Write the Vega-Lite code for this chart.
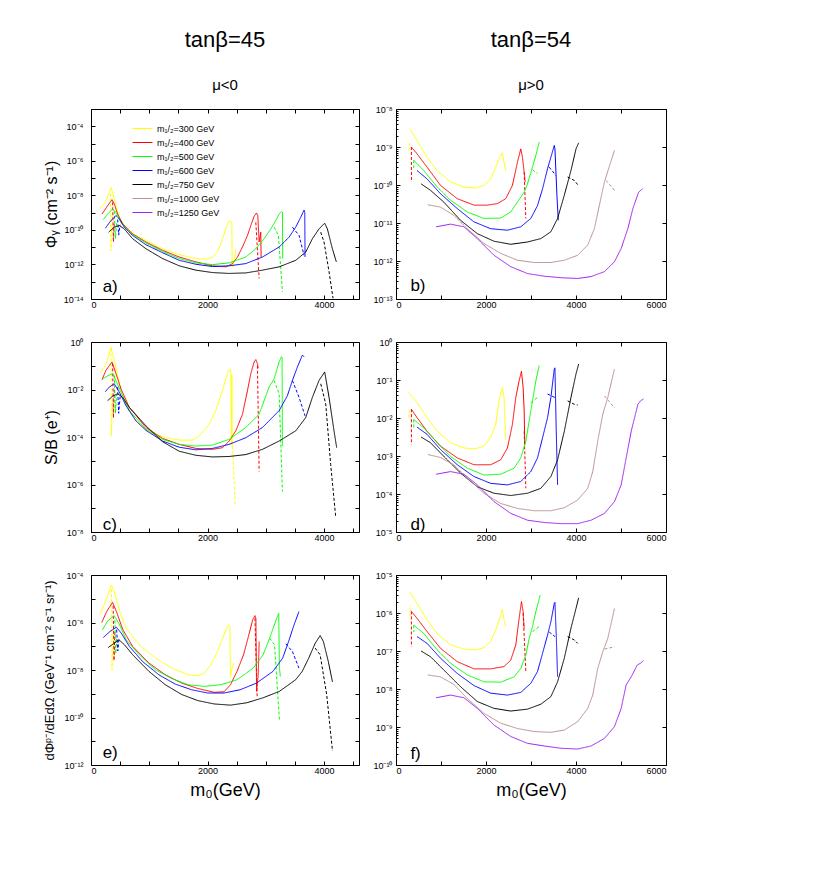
{
  "$schema": "https://vega.github.io/schema/vega-lite/v6.json",
  "padding": {"left": 42, "top": 28, "right": 10, "bottom": 10},
  "background": "white",
  "config": {
    "font": "Liberation Sans",
    "view": {"stroke": "black", "strokeWidth": 1},
    "axis": {"grid": false, "domain": false, "tickSize": -4, "tickColor": "black", "labelColor": "black", "labelFont": "Liberation Sans", "labelFontSize": 9, "titleFont": "Liberation Sans", "titleFontWeight": "normal", "titleColor": "black"},
    "title": {"font": "Liberation Sans", "fontSize": 22, "fontWeight": "normal", "color": "black", "subtitleFont": "Liberation Sans", "subtitleFontSize": 15, "subtitleColor": "black", "subtitlePadding": 26, "offset": 15, "anchor": "middle"},
    "line": {"strokeWidth": 1}
  },
  "columns": 2,
  "align": "each",
  "spacing": {"row": 27, "column": 7},
  "resolve": {"scale": {"color": "independent", "strokeDash": "independent", "x": "independent", "y": "independent"}, "legend": {"color": "independent", "strokeDash": "independent"}},
  "datasets": {
    "a": [
      {"m":"300","t":"s","g":"300s","x":154,"y":-8.75},{"m":"300","t":"s","g":"300s","x":246,"y":-8.41},{"m":"300","t":"s","g":"300s","x":314,"y":-7.83},{"m":"300","t":"s","g":"300s","x":343,"y":-7.54},{"m":"300","t":"s","g":"300s","x":371,"y":-7.83},{"m":"300","t":"s","g":"300s","x":429,"y":-8.6},{"m":"300","t":"s","g":"300s","x":486,"y":-9.27},{"m":"300","t":"s","g":"300s","x":600,"y":-9.84},{"m":"300","t":"s","g":"300s","x":771,"y":-10.32},{"m":"300","t":"s","g":"300s","x":943,"y":-10.61},{"m":"300","t":"s","g":"300s","x":1229,"y":-11.09},{"m":"300","t":"s","g":"300s","x":1514,"y":-11.43},{"m":"300","t":"s","g":"300s","x":1800,"y":-11.66},{"m":"300","t":"s","g":"300s","x":2000,"y":-11.7},{"m":"300","t":"s","g":"300s","x":2086,"y":-11.57},{"m":"300","t":"s","g":"300s","x":2171,"y":-11.28},{"m":"300","t":"s","g":"300s","x":2229,"y":-10.8},{"m":"300","t":"s","g":"300s","x":2286,"y":-10.23},{"m":"300","t":"s","g":"300s","x":2343,"y":-9.65},{"m":"300","t":"s","g":"300s","x":2371,"y":-9.48},{"m":"300","t":"s","g":"300s","x":2400,"y":-9.52},{"m":"300","t":"s","g":"300s","x":2417,"y":-9.56},{"m":"300","t":"s","g":"300s","x":2423,"y":-11.85},{"m":"300","t":"s","g":"300s","x":2434,"y":-12.14},{"m":"300","t":"s","g":"300s","x":2463,"y":-11.66},{"m":"300","t":"s","g":"300s","x":2486,"y":-11.09},
      {"m":"300","t":"d","g":"300d","x":335,"y":-7.9},{"m":"300","t":"d","g":"300d","x":343,"y":-11.2},{"m":"300","t":"d","g":"300d","x":360,"y":-9.2},
      {"m":"400","t":"s","g":"400s","x":189,"y":-9.08},{"m":"400","t":"s","g":"400s","x":286,"y":-8.6},{"m":"400","t":"s","g":"400s","x":360,"y":-8.25},{"m":"400","t":"s","g":"400s","x":400,"y":-8.5},{"m":"400","t":"s","g":"400s","x":457,"y":-9.08},{"m":"400","t":"s","g":"400s","x":543,"y":-9.65},{"m":"400","t":"s","g":"400s","x":714,"y":-10.23},{"m":"400","t":"s","g":"400s","x":943,"y":-10.7},{"m":"400","t":"s","g":"400s","x":1229,"y":-11.18},{"m":"400","t":"s","g":"400s","x":1514,"y":-11.57},{"m":"400","t":"s","g":"400s","x":1800,"y":-11.85},{"m":"400","t":"s","g":"400s","x":2086,"y":-12.08},{"m":"400","t":"s","g":"400s","x":2314,"y":-12.14},{"m":"400","t":"s","g":"400s","x":2429,"y":-11.95},{"m":"400","t":"s","g":"400s","x":2514,"y":-11.57},{"m":"400","t":"s","g":"400s","x":2600,"y":-10.99},{"m":"400","t":"s","g":"400s","x":2686,"y":-10.32},{"m":"400","t":"s","g":"400s","x":2743,"y":-9.75},{"m":"400","t":"s","g":"400s","x":2800,"y":-9.21},{"m":"400","t":"s","g":"400s","x":2840,"y":-9.02},{"m":"400","t":"s","g":"400s","x":2863,"y":-9.17},{"m":"400","t":"s","g":"400s","x":2886,"y":-10.7},{"m":"400","t":"s","g":"400s","x":2914,"y":-10.13},{"m":"400","t":"s","g":"400s","x":2920,"y":-11.57},
      {"m":"400","t":"d","g":"400d","x":371,"y":-8.4},{"m":"400","t":"d","g":"400d","x":385,"y":-10.7},{"m":"400","t":"d","g":"400d","x":400,"y":-9.5},
      {"m":"400","t":"d","g":"400e","x":2829,"y":-9.56},{"m":"400","t":"d","g":"400e","x":2886,"y":-12.81},
      {"m":"500","t":"s","g":"500s","x":211,"y":-9.4},{"m":"500","t":"s","g":"500s","x":286,"y":-9.08},{"m":"500","t":"s","g":"500s","x":371,"y":-8.79},{"m":"500","t":"s","g":"500s","x":429,"y":-8.98},{"m":"500","t":"s","g":"500s","x":514,"y":-9.56},{"m":"500","t":"s","g":"500s","x":657,"y":-10.13},{"m":"500","t":"s","g":"500s","x":943,"y":-10.76},{"m":"500","t":"s","g":"500s","x":1229,"y":-11.24},{"m":"500","t":"s","g":"500s","x":1514,"y":-11.66},{"m":"500","t":"s","g":"500s","x":1800,"y":-11.91},{"m":"500","t":"s","g":"500s","x":2086,"y":-12.01},{"m":"500","t":"s","g":"500s","x":2371,"y":-11.91},{"m":"500","t":"s","g":"500s","x":2657,"y":-11.57},{"m":"500","t":"s","g":"500s","x":2829,"y":-11.09},{"m":"500","t":"s","g":"500s","x":2971,"y":-10.51},{"m":"500","t":"s","g":"500s","x":3086,"y":-9.94},{"m":"500","t":"s","g":"500s","x":3171,"y":-9.46},{"m":"500","t":"s","g":"500s","x":3229,"y":-9.08},{"m":"500","t":"s","g":"500s","x":3269,"y":-8.94},{"m":"500","t":"s","g":"500s","x":3286,"y":-8.98},{"m":"500","t":"s","g":"500s","x":3291,"y":-11.66},
      {"m":"500","t":"d","g":"500d","x":400,"y":-8.9},{"m":"500","t":"d","g":"500d","x":420,"y":-10.5},{"m":"500","t":"d","g":"500d","x":440,"y":-9.6},
      {"m":"500","t":"d","g":"500e","x":3143,"y":-9.84},{"m":"500","t":"d","g":"500e","x":3217,"y":-10.32},{"m":"500","t":"d","g":"500e","x":3286,"y":-13.58},
      {"m":"600","t":"s","g":"600s","x":246,"y":-9.9},{"m":"600","t":"s","g":"600s","x":343,"y":-9.46},{"m":"600","t":"s","g":"600s","x":429,"y":-9.17},{"m":"600","t":"s","g":"600s","x":486,"y":-9.36},{"m":"600","t":"s","g":"600s","x":571,"y":-9.84},{"m":"600","t":"s","g":"600s","x":714,"y":-10.32},{"m":"600","t":"s","g":"600s","x":943,"y":-10.86},{"m":"600","t":"s","g":"600s","x":1229,"y":-11.32},{"m":"600","t":"s","g":"600s","x":1514,"y":-11.76},{"m":"600","t":"s","g":"600s","x":1800,"y":-11.99},{"m":"600","t":"s","g":"600s","x":2086,"y":-12.12},{"m":"600","t":"s","g":"600s","x":2371,"y":-12.08},{"m":"600","t":"s","g":"600s","x":2657,"y":-11.95},{"m":"600","t":"s","g":"600s","x":2943,"y":-11.57},{"m":"600","t":"s","g":"600s","x":3229,"y":-10.99},{"m":"600","t":"s","g":"600s","x":3400,"y":-10.42},{"m":"600","t":"s","g":"600s","x":3514,"y":-9.84},{"m":"600","t":"s","g":"600s","x":3600,"y":-9.27},{"m":"600","t":"s","g":"600s","x":3657,"y":-8.85},{"m":"600","t":"s","g":"600s","x":3669,"y":-8.98},{"m":"600","t":"s","g":"600s","x":3674,"y":-11.57},
      {"m":"600","t":"d","g":"600d","x":457,"y":-9.4},{"m":"600","t":"d","g":"600d","x":475,"y":-10.3},{"m":"600","t":"d","g":"600d","x":500,"y":-9.7},
      {"m":"600","t":"d","g":"600e","x":3457,"y":-9.84},{"m":"600","t":"d","g":"600e","x":3571,"y":-10.32},{"m":"600","t":"d","g":"600e","x":3657,"y":-11.47},
      {"m":"750","t":"s","g":"750s","x":303,"y":-10.13},{"m":"750","t":"s","g":"750s","x":400,"y":-9.84},{"m":"750","t":"s","g":"750s","x":486,"y":-9.75},{"m":"750","t":"s","g":"750s","x":571,"y":-9.94},{"m":"750","t":"s","g":"750s","x":714,"y":-10.51},{"m":"750","t":"s","g":"750s","x":943,"y":-11.09},{"m":"750","t":"s","g":"750s","x":1229,"y":-11.66},{"m":"750","t":"s","g":"750s","x":1514,"y":-12.08},{"m":"750","t":"s","g":"750s","x":1800,"y":-12.33},{"m":"750","t":"s","g":"750s","x":2086,"y":-12.47},{"m":"750","t":"s","g":"750s","x":2371,"y":-12.52},{"m":"750","t":"s","g":"750s","x":2657,"y":-12.49},{"m":"750","t":"s","g":"750s","x":2943,"y":-12.33},{"m":"750","t":"s","g":"750s","x":3229,"y":-12.14},{"m":"750","t":"s","g":"750s","x":3514,"y":-11.76},{"m":"750","t":"s","g":"750s","x":3686,"y":-11.28},{"m":"750","t":"s","g":"750s","x":3800,"y":-10.51},{"m":"750","t":"s","g":"750s","x":3914,"y":-9.94},{"m":"750","t":"s","g":"750s","x":4011,"y":-9.61},{"m":"750","t":"s","g":"750s","x":4057,"y":-9.94},{"m":"750","t":"s","g":"750s","x":4143,"y":-11.09},{"m":"750","t":"s","g":"750s","x":4211,"y":-11.85},
      {"m":"750","t":"d","g":"750e","x":3943,"y":-10.13},{"m":"750","t":"d","g":"750e","x":4000,"y":-10.7},{"m":"750","t":"d","g":"750e","x":4086,"y":-12.43},{"m":"750","t":"d","g":"750e","x":4154,"y":-13.96}
    ],
    "c": [
      {"m":"300","t":"s","g":"300s","x":160,"y":-1.29},{"m":"300","t":"s","g":"300s","x":257,"y":-0.95},{"m":"300","t":"s","g":"300s","x":343,"y":-0.23},{"m":"300","t":"s","g":"300s","x":400,"y":-0.77},{"m":"300","t":"s","g":"300s","x":486,"y":-1.76},{"m":"300","t":"s","g":"300s","x":600,"y":-2.61},{"m":"300","t":"s","g":"300s","x":771,"y":-3.32},{"m":"300","t":"s","g":"300s","x":943,"y":-3.67},{"m":"300","t":"s","g":"300s","x":1229,"y":-4.0},{"m":"300","t":"s","g":"300s","x":1514,"y":-4.13},{"m":"300","t":"s","g":"300s","x":1743,"y":-4.13},{"m":"300","t":"s","g":"300s","x":1857,"y":-3.96},{"m":"300","t":"s","g":"300s","x":2029,"y":-3.46},{"m":"300","t":"s","g":"300s","x":2143,"y":-2.89},{"m":"300","t":"s","g":"300s","x":2257,"y":-2.04},{"m":"300","t":"s","g":"300s","x":2343,"y":-1.33},{"m":"300","t":"s","g":"300s","x":2371,"y":-1.16},{"m":"300","t":"s","g":"300s","x":2400,"y":-1.19},{"m":"300","t":"s","g":"300s","x":2411,"y":-4.3},{"m":"300","t":"s","g":"300s","x":2418,"y":-1.4},{"m":"300","t":"s","g":"300s","x":2425,"y":-4.4},
      {"m":"300","t":"d","g":"300d","x":343,"y":-0.27},{"m":"300","t":"d","g":"300d","x":350,"y":-3.96},{"m":"300","t":"d","g":"300d","x":370,"y":-2.5},
      {"m":"300","t":"d","g":"300e","x":2430,"y":-4.4},{"m":"300","t":"d","g":"300e","x":2474,"y":-6.87},
      {"m":"400","t":"s","g":"400s","x":189,"y":-1.59},{"m":"400","t":"s","g":"400s","x":257,"y":-1.19},{"m":"400","t":"s","g":"400s","x":360,"y":-0.84},{"m":"400","t":"s","g":"400s","x":429,"y":-1.33},{"m":"400","t":"s","g":"400s","x":514,"y":-1.97},{"m":"400","t":"s","g":"400s","x":657,"y":-2.75},{"m":"400","t":"s","g":"400s","x":943,"y":-3.6},{"m":"400","t":"s","g":"400s","x":1229,"y":-4.06},{"m":"400","t":"s","g":"400s","x":1514,"y":-4.31},{"m":"400","t":"s","g":"400s","x":1800,"y":-4.48},{"m":"400","t":"s","g":"400s","x":2086,"y":-4.52},{"m":"400","t":"s","g":"400s","x":2257,"y":-4.45},{"m":"400","t":"s","g":"400s","x":2371,"y":-4.17},{"m":"400","t":"s","g":"400s","x":2486,"y":-3.74},{"m":"400","t":"s","g":"400s","x":2600,"y":-3.04},{"m":"400","t":"s","g":"400s","x":2686,"y":-2.04},{"m":"400","t":"s","g":"400s","x":2743,"y":-1.33},{"m":"400","t":"s","g":"400s","x":2800,"y":-0.84},{"m":"400","t":"s","g":"400s","x":2829,"y":-0.74},{"m":"400","t":"s","g":"400s","x":2857,"y":-0.91},{"m":"400","t":"s","g":"400s","x":2870,"y":-1.1},
      {"m":"400","t":"d","g":"400d","x":371,"y":-0.9},{"m":"400","t":"d","g":"400d","x":385,"y":-3.2},{"m":"400","t":"d","g":"400d","x":400,"y":-2.0},
      {"m":"400","t":"d","g":"400e","x":2857,"y":-1.0},{"m":"400","t":"d","g":"400e","x":2886,"y":-5.45},
      {"m":"500","t":"s","g":"500s","x":200,"y":-1.55},{"m":"500","t":"s","g":"500s","x":290,"y":-1.42},{"m":"500","t":"s","g":"500s","x":371,"y":-1.33},{"m":"500","t":"s","g":"500s","x":440,"y":-1.69},{"m":"500","t":"s","g":"500s","x":514,"y":-2.11},{"m":"500","t":"s","g":"500s","x":657,"y":-2.89},{"m":"500","t":"s","g":"500s","x":943,"y":-3.67},{"m":"500","t":"s","g":"500s","x":1229,"y":-4.1},{"m":"500","t":"s","g":"500s","x":1514,"y":-4.31},{"m":"500","t":"s","g":"500s","x":1800,"y":-4.38},{"m":"500","t":"s","g":"500s","x":2086,"y":-4.34},{"m":"500","t":"s","g":"500s","x":2371,"y":-4.1},{"m":"500","t":"s","g":"500s","x":2657,"y":-3.6},{"m":"500","t":"s","g":"500s","x":2886,"y":-3.04},{"m":"500","t":"s","g":"500s","x":3057,"y":-1.9},{"m":"500","t":"s","g":"500s","x":3143,"y":-1.55},{"m":"500","t":"s","g":"500s","x":3229,"y":-0.84},{"m":"500","t":"s","g":"500s","x":3269,"y":-0.62},{"m":"500","t":"s","g":"500s","x":3280,"y":-0.65},{"m":"500","t":"s","g":"500s","x":3286,"y":-4.38},
      {"m":"500","t":"d","g":"500d","x":400,"y":-1.4},{"m":"500","t":"d","g":"500d","x":420,"y":-3.0},{"m":"500","t":"d","g":"500d","x":440,"y":-2.2},
      {"m":"500","t":"d","g":"500e","x":3143,"y":-1.62},{"m":"500","t":"d","g":"500e","x":3229,"y":-2.18},{"m":"500","t":"d","g":"500e","x":3286,"y":-6.3},
      {"m":"600","t":"s","g":"600s","x":246,"y":-2.09},{"m":"600","t":"s","g":"600s","x":314,"y":-1.9},{"m":"600","t":"s","g":"600s","x":400,"y":-1.76},{"m":"600","t":"s","g":"600s","x":486,"y":-2.11},{"m":"600","t":"s","g":"600s","x":600,"y":-2.68},{"m":"600","t":"s","g":"600s","x":771,"y":-3.32},{"m":"600","t":"s","g":"600s","x":943,"y":-3.72},{"m":"600","t":"s","g":"600s","x":1229,"y":-4.17},{"m":"600","t":"s","g":"600s","x":1514,"y":-4.43},{"m":"600","t":"s","g":"600s","x":1800,"y":-4.54},{"m":"600","t":"s","g":"600s","x":2086,"y":-4.48},{"m":"600","t":"s","g":"600s","x":2371,"y":-4.31},{"m":"600","t":"s","g":"600s","x":2657,"y":-4.03},{"m":"600","t":"s","g":"600s","x":2943,"y":-3.6},{"m":"600","t":"s","g":"600s","x":3229,"y":-2.89},{"m":"600","t":"s","g":"600s","x":3371,"y":-2.26},{"m":"600","t":"s","g":"600s","x":3457,"y":-1.62},{"m":"600","t":"s","g":"600s","x":3543,"y":-1.05},{"m":"600","t":"s","g":"600s","x":3629,"y":-0.55},{"m":"600","t":"s","g":"600s","x":3657,"y":-0.62},
      {"m":"600","t":"d","g":"600d","x":457,"y":-1.9},{"m":"600","t":"d","g":"600d","x":475,"y":-3.0},{"m":"600","t":"d","g":"600d","x":500,"y":-2.3},
      {"m":"600","t":"d","g":"600e","x":3457,"y":-1.62},{"m":"600","t":"d","g":"600e","x":3571,"y":-2.33},{"m":"600","t":"d","g":"600e","x":3674,"y":-3.11},
      {"m":"750","t":"s","g":"750s","x":286,"y":-2.47},{"m":"750","t":"s","g":"750s","x":371,"y":-2.28},{"m":"750","t":"s","g":"750s","x":457,"y":-2.18},{"m":"750","t":"s","g":"750s","x":543,"y":-2.33},{"m":"750","t":"s","g":"750s","x":657,"y":-2.75},{"m":"750","t":"s","g":"750s","x":943,"y":-3.53},{"m":"750","t":"s","g":"750s","x":1229,"y":-4.2},{"m":"750","t":"s","g":"750s","x":1514,"y":-4.6},{"m":"750","t":"s","g":"750s","x":1800,"y":-4.77},{"m":"750","t":"s","g":"750s","x":2086,"y":-4.84},{"m":"750","t":"s","g":"750s","x":2371,"y":-4.82},{"m":"750","t":"s","g":"750s","x":2657,"y":-4.74},{"m":"750","t":"s","g":"750s","x":2943,"y":-4.52},{"m":"750","t":"s","g":"750s","x":3229,"y":-4.17},{"m":"750","t":"s","g":"750s","x":3514,"y":-3.74},{"m":"750","t":"s","g":"750s","x":3686,"y":-3.18},{"m":"750","t":"s","g":"750s","x":3800,"y":-2.33},{"m":"750","t":"s","g":"750s","x":3914,"y":-1.62},{"m":"750","t":"s","g":"750s","x":4011,"y":-1.26},{"m":"750","t":"s","g":"750s","x":4086,"y":-2.33},{"m":"750","t":"s","g":"750s","x":4171,"y":-3.74},{"m":"750","t":"s","g":"750s","x":4217,"y":-4.45},
      {"m":"750","t":"d","g":"750e","x":3943,"y":-1.76},{"m":"750","t":"d","g":"750e","x":4029,"y":-2.61},{"m":"750","t":"d","g":"750e","x":4114,"y":-5.16},{"m":"750","t":"d","g":"750e","x":4200,"y":-7.36}
    ],
    "e": [
      {"m":"300","t":"s","g":"300s","x":157,"y":-5.65},{"m":"300","t":"s","g":"300s","x":269,"y":-4.98},{"m":"300","t":"s","g":"300s","x":352,"y":-4.42},{"m":"300","t":"s","g":"300s","x":408,"y":-4.77},{"m":"300","t":"s","g":"300s","x":492,"y":-5.54},{"m":"300","t":"s","g":"300s","x":604,"y":-6.24},{"m":"300","t":"s","g":"300s","x":828,"y":-6.94},{"m":"300","t":"s","g":"300s","x":1108,"y":-7.5},{"m":"300","t":"s","g":"300s","x":1387,"y":-7.92},{"m":"300","t":"s","g":"300s","x":1667,"y":-8.2},{"m":"300","t":"s","g":"300s","x":1835,"y":-8.24},{"m":"300","t":"s","g":"300s","x":1947,"y":-8.13},{"m":"300","t":"s","g":"300s","x":2059,"y":-7.78},{"m":"300","t":"s","g":"300s","x":2171,"y":-7.22},{"m":"300","t":"s","g":"300s","x":2283,"y":-6.52},{"m":"300","t":"s","g":"300s","x":2338,"y":-6.17},{"m":"300","t":"s","g":"300s","x":2366,"y":-6.1},{"m":"300","t":"s","g":"300s","x":2383,"y":-6.15},{"m":"300","t":"s","g":"300s","x":2394,"y":-8.27},{"m":"300","t":"s","g":"300s","x":2422,"y":-7.92},{"m":"300","t":"s","g":"300s","x":2450,"y":-7.71},
      {"m":"300","t":"d","g":"300d","x":352,"y":-4.6},{"m":"300","t":"d","g":"300d","x":360,"y":-8.0},{"m":"300","t":"d","g":"300d","x":380,"y":-6.5},
      {"m":"400","t":"s","g":"400s","x":185,"y":-6.0},{"m":"400","t":"s","g":"400s","x":269,"y":-5.54},{"m":"400","t":"s","g":"400s","x":369,"y":-5.15},{"m":"400","t":"s","g":"400s","x":436,"y":-5.54},{"m":"400","t":"s","g":"400s","x":548,"y":-6.31},{"m":"400","t":"s","g":"400s","x":716,"y":-7.01},{"m":"400","t":"s","g":"400s","x":996,"y":-7.71},{"m":"400","t":"s","g":"400s","x":1275,"y":-8.2},{"m":"400","t":"s","g":"400s","x":1555,"y":-8.55},{"m":"400","t":"s","g":"400s","x":1835,"y":-8.78},{"m":"400","t":"s","g":"400s","x":2115,"y":-8.94},{"m":"400","t":"s","g":"400s","x":2283,"y":-8.92},{"m":"400","t":"s","g":"400s","x":2394,"y":-8.62},{"m":"400","t":"s","g":"400s","x":2506,"y":-8.06},{"m":"400","t":"s","g":"400s","x":2618,"y":-7.36},{"m":"400","t":"s","g":"400s","x":2702,"y":-6.59},{"m":"400","t":"s","g":"400s","x":2775,"y":-5.89},{"m":"400","t":"s","g":"400s","x":2814,"y":-5.71},{"m":"400","t":"s","g":"400s","x":2830,"y":-5.82},{"m":"400","t":"s","g":"400s","x":2842,"y":-8.9},{"m":"400","t":"s","g":"400s","x":2870,"y":-8.2},{"m":"400","t":"s","g":"400s","x":2887,"y":-6.8},
      {"m":"400","t":"d","g":"400d","x":380,"y":-5.3},{"m":"400","t":"d","g":"400d","x":395,"y":-7.6},{"m":"400","t":"d","g":"400d","x":410,"y":-6.4},
      {"m":"400","t":"d","g":"400e","x":2814,"y":-5.82},{"m":"400","t":"d","g":"400e","x":2853,"y":-9.17},
      {"m":"500","t":"s","g":"500s","x":196,"y":-6.31},{"m":"500","t":"s","g":"500s","x":280,"y":-5.95},{"m":"500","t":"s","g":"500s","x":397,"y":-5.71},{"m":"500","t":"s","g":"500s","x":492,"y":-6.1},{"m":"500","t":"s","g":"500s","x":604,"y":-6.73},{"m":"500","t":"s","g":"500s","x":828,"y":-7.36},{"m":"500","t":"s","g":"500s","x":1108,"y":-7.99},{"m":"500","t":"s","g":"500s","x":1387,"y":-8.36},{"m":"500","t":"s","g":"500s","x":1667,"y":-8.62},{"m":"500","t":"s","g":"500s","x":1947,"y":-8.69},{"m":"500","t":"s","g":"500s","x":2227,"y":-8.62},{"m":"500","t":"s","g":"500s","x":2506,"y":-8.41},{"m":"500","t":"s","g":"500s","x":2786,"y":-7.92},{"m":"500","t":"s","g":"500s","x":2954,"y":-7.36},{"m":"500","t":"s","g":"500s","x":3066,"y":-6.66},{"m":"500","t":"s","g":"500s","x":3178,"y":-5.89},{"m":"500","t":"s","g":"500s","x":3222,"y":-5.61},{"m":"500","t":"s","g":"500s","x":3234,"y":-7.92},{"m":"500","t":"s","g":"500s","x":3250,"y":-8.27},
      {"m":"500","t":"d","g":"500d","x":410,"y":-5.9},{"m":"500","t":"d","g":"500d","x":425,"y":-7.3},{"m":"500","t":"d","g":"500d","x":445,"y":-6.6},
      {"m":"500","t":"d","g":"500e","x":3066,"y":-6.66},{"m":"500","t":"d","g":"500e","x":3150,"y":-6.94},{"m":"500","t":"d","g":"500e","x":3234,"y":-10.08},
      {"m":"600","t":"s","g":"600s","x":213,"y":-6.63},{"m":"600","t":"s","g":"600s","x":324,"y":-6.38},{"m":"600","t":"s","g":"600s","x":436,"y":-6.2},{"m":"600","t":"s","g":"600s","x":520,"y":-6.45},{"m":"600","t":"s","g":"600s","x":660,"y":-7.01},{"m":"600","t":"s","g":"600s","x":884,"y":-7.64},{"m":"600","t":"s","g":"600s","x":1164,"y":-8.2},{"m":"600","t":"s","g":"600s","x":1443,"y":-8.59},{"m":"600","t":"s","g":"600s","x":1723,"y":-8.83},{"m":"600","t":"s","g":"600s","x":2003,"y":-8.97},{"m":"600","t":"s","g":"600s","x":2283,"y":-8.97},{"m":"600","t":"s","g":"600s","x":2562,"y":-8.83},{"m":"600","t":"s","g":"600s","x":2842,"y":-8.55},{"m":"600","t":"s","g":"600s","x":3122,"y":-8.06},{"m":"600","t":"s","g":"600s","x":3290,"y":-7.5},{"m":"600","t":"s","g":"600s","x":3401,"y":-6.73},{"m":"600","t":"s","g":"600s","x":3485,"y":-6.1},{"m":"600","t":"s","g":"600s","x":3569,"y":-5.54},
      {"m":"600","t":"d","g":"600d","x":440,"y":-6.3},{"m":"600","t":"d","g":"600d","x":460,"y":-7.2},{"m":"600","t":"d","g":"600d","x":480,"y":-6.7},
      {"m":"600","t":"d","g":"600e","x":3345,"y":-6.9},{"m":"600","t":"d","g":"600e","x":3457,"y":-7.22},{"m":"600","t":"d","g":"600e","x":3569,"y":-7.92},
      {"m":"750","t":"s","g":"750s","x":297,"y":-7.05},{"m":"750","t":"s","g":"750s","x":408,"y":-6.86},{"m":"750","t":"s","g":"750s","x":481,"y":-6.73},{"m":"750","t":"s","g":"750s","x":576,"y":-6.94},{"m":"750","t":"s","g":"750s","x":716,"y":-7.36},{"m":"750","t":"s","g":"750s","x":996,"y":-8.06},{"m":"750","t":"s","g":"750s","x":1275,"y":-8.62},{"m":"750","t":"s","g":"750s","x":1555,"y":-9.03},{"m":"750","t":"s","g":"750s","x":1835,"y":-9.29},{"m":"750","t":"s","g":"750s","x":2115,"y":-9.43},{"m":"750","t":"s","g":"750s","x":2394,"y":-9.48},{"m":"750","t":"s","g":"750s","x":2674,"y":-9.38},{"m":"750","t":"s","g":"750s","x":2954,"y":-9.17},{"m":"750","t":"s","g":"750s","x":3234,"y":-8.9},{"m":"750","t":"s","g":"750s","x":3513,"y":-8.41},{"m":"750","t":"s","g":"750s","x":3625,"y":-8.06},{"m":"750","t":"s","g":"750s","x":3737,"y":-7.5},{"m":"750","t":"s","g":"750s","x":3849,"y":-6.87},{"m":"750","t":"s","g":"750s","x":3933,"y":-6.55},{"m":"750","t":"s","g":"750s","x":3989,"y":-6.8},{"m":"750","t":"s","g":"750s","x":4073,"y":-7.64},{"m":"750","t":"s","g":"750s","x":4145,"y":-8.5},
      {"m":"750","t":"d","g":"750e","x":3849,"y":-7.08},{"m":"750","t":"d","g":"750e","x":3933,"y":-7.36},{"m":"750","t":"d","g":"750e","x":4045,"y":-9.03},{"m":"750","t":"d","g":"750e","x":4145,"y":-11.41}
    ],
    "b": [
      {"m":"300","t":"s","g":"300s","x":305,"y":-8.52},{"m":"300","t":"s","g":"300s","x":468,"y":-8.83},{"m":"300","t":"s","g":"300s","x":691,"y":-9.27},{"m":"300","t":"s","g":"300s","x":914,"y":-9.62},{"m":"300","t":"s","g":"300s","x":1212,"y":-9.92},{"m":"300","t":"s","g":"300s","x":1509,"y":-10.05},{"m":"300","t":"s","g":"300s","x":1770,"y":-10.08},{"m":"300","t":"s","g":"300s","x":1955,"y":-10.01},{"m":"300","t":"s","g":"300s","x":2104,"y":-9.84},{"m":"300","t":"s","g":"300s","x":2216,"y":-9.53},{"m":"300","t":"s","g":"300s","x":2305,"y":-9.27},{"m":"300","t":"s","g":"300s","x":2364,"y":-9.15},{"m":"300","t":"s","g":"300s","x":2401,"y":-9.4},{"m":"300","t":"s","g":"300s","x":2439,"y":-9.62},
      {"m":"300","t":"d","g":"300d","x":290,"y":-9.1},{"m":"300","t":"d","g":"300d","x":305,"y":-8.85},
      {"m":"400","t":"s","g":"400s","x":342,"y":-9.0},{"m":"400","t":"s","g":"400s","x":468,"y":-9.18},{"m":"400","t":"s","g":"400s","x":691,"y":-9.53},{"m":"400","t":"s","g":"400s","x":989,"y":-10.01},{"m":"400","t":"s","g":"400s","x":1361,"y":-10.36},{"m":"400","t":"s","g":"400s","x":1732,"y":-10.53},{"m":"400","t":"s","g":"400s","x":2030,"y":-10.53},{"m":"400","t":"s","g":"400s","x":2253,"y":-10.49},{"m":"400","t":"s","g":"400s","x":2439,"y":-10.36},{"m":"400","t":"s","g":"400s","x":2587,"y":-10.01},{"m":"400","t":"s","g":"400s","x":2699,"y":-9.4},{"m":"400","t":"s","g":"400s","x":2773,"y":-9.05},{"m":"400","t":"s","g":"400s","x":2810,"y":-9.27},{"m":"400","t":"s","g":"400s","x":2848,"y":-9.66},{"m":"400","t":"s","g":"400s","x":2870,"y":-9.92},
      {"m":"400","t":"d","g":"400d","x":342,"y":-9.0},{"m":"400","t":"d","g":"400d","x":343,"y":-9.92},
      {"m":"400","t":"d","g":"400e","x":2848,"y":-9.66},{"m":"400","t":"d","g":"400e","x":2885,"y":-10.88},
      {"m":"500","t":"s","g":"500s","x":394,"y":-9.35},{"m":"500","t":"s","g":"500s","x":617,"y":-9.62},{"m":"500","t":"s","g":"500s","x":914,"y":-10.05},{"m":"500","t":"s","g":"500s","x":1212,"y":-10.4},{"m":"500","t":"s","g":"500s","x":1584,"y":-10.71},{"m":"500","t":"s","g":"500s","x":1955,"y":-10.88},{"m":"500","t":"s","g":"500s","x":2327,"y":-10.87},{"m":"500","t":"s","g":"500s","x":2550,"y":-10.71},{"m":"500","t":"s","g":"500s","x":2699,"y":-10.45},{"m":"500","t":"s","g":"500s","x":2848,"y":-10.19},{"m":"500","t":"s","g":"500s","x":2922,"y":-9.97},{"m":"500","t":"s","g":"500s","x":3033,"y":-9.53},{"m":"500","t":"s","g":"500s","x":3108,"y":-9.22},{"m":"500","t":"s","g":"500s","x":3182,"y":-8.87},
      {"m":"500","t":"d","g":"500d","x":394,"y":-9.35},{"m":"500","t":"d","g":"500d","x":395,"y":-9.55},
      {"m":"500","t":"d","g":"500e","x":3033,"y":-9.6},{"m":"500","t":"d","g":"500e","x":3145,"y":-9.7},
      {"m":"600","t":"s","g":"600s","x":468,"y":-9.62},{"m":"600","t":"s","g":"600s","x":691,"y":-9.84},{"m":"600","t":"s","g":"600s","x":989,"y":-10.23},{"m":"600","t":"s","g":"600s","x":1361,"y":-10.62},{"m":"600","t":"s","g":"600s","x":1732,"y":-10.97},{"m":"600","t":"s","g":"600s","x":2104,"y":-11.15},{"m":"600","t":"s","g":"600s","x":2476,"y":-11.19},{"m":"600","t":"s","g":"600s","x":2773,"y":-11.1},{"m":"600","t":"s","g":"600s","x":2996,"y":-10.88},{"m":"600","t":"s","g":"600s","x":3145,"y":-10.54},{"m":"600","t":"s","g":"600s","x":3257,"y":-10.1},{"m":"600","t":"s","g":"600s","x":3368,"y":-9.57},{"m":"600","t":"s","g":"600s","x":3442,"y":-9.27},{"m":"600","t":"s","g":"600s","x":3517,"y":-8.96},{"m":"600","t":"s","g":"600s","x":3532,"y":-9.05},{"m":"600","t":"s","g":"600s","x":3576,"y":-10.27},{"m":"600","t":"s","g":"600s","x":3606,"y":-10.93},
      {"m":"600","t":"d","g":"600e","x":3405,"y":-9.53},{"m":"600","t":"d","g":"600e","x":3554,"y":-9.75},
      {"m":"750","t":"s","g":"750s","x":558,"y":-9.97},{"m":"750","t":"s","g":"750s","x":766,"y":-10.14},{"m":"750","t":"s","g":"750s","x":1063,"y":-10.45},{"m":"750","t":"s","g":"750s","x":1435,"y":-10.93},{"m":"750","t":"s","g":"750s","x":1807,"y":-11.28},{"m":"750","t":"s","g":"750s","x":2178,"y":-11.48},{"m":"750","t":"s","g":"750s","x":2550,"y":-11.56},{"m":"750","t":"s","g":"750s","x":2922,"y":-11.5},{"m":"750","t":"s","g":"750s","x":3219,"y":-11.41},{"m":"750","t":"s","g":"750s","x":3442,"y":-11.23},{"m":"750","t":"s","g":"750s","x":3591,"y":-10.88},{"m":"750","t":"s","g":"750s","x":3740,"y":-10.27},{"m":"750","t":"s","g":"750s","x":3888,"y":-9.62},{"m":"750","t":"s","g":"750s","x":4000,"y":-9.05},{"m":"750","t":"s","g":"750s","x":4059,"y":-8.89},
      {"m":"750","t":"d","g":"750e","x":3814,"y":-9.79},{"m":"750","t":"d","g":"750e","x":3963,"y":-9.88},{"m":"750","t":"d","g":"750e","x":4037,"y":-9.99},
      {"m":"1000","t":"s","g":"1000s","x":706,"y":-10.52},{"m":"1000","t":"s","g":"1000s","x":989,"y":-10.58},{"m":"1000","t":"s","g":"1000s","x":1286,"y":-10.8},{"m":"1000","t":"s","g":"1000s","x":1584,"y":-11.15},{"m":"1000","t":"s","g":"1000s","x":1955,"y":-11.54},{"m":"1000","t":"s","g":"1000s","x":2327,"y":-11.8},{"m":"1000","t":"s","g":"1000s","x":2699,"y":-11.98},{"m":"1000","t":"s","g":"1000s","x":3071,"y":-12.04},{"m":"1000","t":"s","g":"1000s","x":3442,"y":-12.04},{"m":"1000","t":"s","g":"1000s","x":3740,"y":-11.98},{"m":"1000","t":"s","g":"1000s","x":4037,"y":-11.85},{"m":"1000","t":"s","g":"1000s","x":4260,"y":-11.58},{"m":"1000","t":"s","g":"1000s","x":4409,"y":-11.15},{"m":"1000","t":"s","g":"1000s","x":4520,"y":-10.53},{"m":"1000","t":"s","g":"1000s","x":4632,"y":-9.92},{"m":"1000","t":"s","g":"1000s","x":4743,"y":-9.5},{"m":"1000","t":"s","g":"1000s","x":4855,"y":-9.09},
      {"m":"1000","t":"d","g":"1000e","x":4669,"y":-9.88},{"m":"1000","t":"d","g":"1000e","x":4855,"y":-10.14},
      {"m":"1250","t":"s","g":"1250s","x":892,"y":-11.1},{"m":"1250","t":"s","g":"1250s","x":1212,"y":-11.03},{"m":"1250","t":"s","g":"1250s","x":1509,"y":-11.1},{"m":"1250","t":"s","g":"1250s","x":1807,"y":-11.41},{"m":"1250","t":"s","g":"1250s","x":2178,"y":-11.85},{"m":"1250","t":"s","g":"1250s","x":2550,"y":-12.15},{"m":"1250","t":"s","g":"1250s","x":2922,"y":-12.33},{"m":"1250","t":"s","g":"1250s","x":3294,"y":-12.4},{"m":"1250","t":"s","g":"1250s","x":3665,"y":-12.44},{"m":"1250","t":"s","g":"1250s","x":4037,"y":-12.46},{"m":"1250","t":"s","g":"1250s","x":4335,"y":-12.41},{"m":"1250","t":"s","g":"1250s","x":4632,"y":-12.28},{"m":"1250","t":"s","g":"1250s","x":4855,"y":-12.02},{"m":"1250","t":"s","g":"1250s","x":5004,"y":-11.67},{"m":"1250","t":"s","g":"1250s","x":5152,"y":-11.15},{"m":"1250","t":"s","g":"1250s","x":5264,"y":-10.62},{"m":"1250","t":"s","g":"1250s","x":5390,"y":-10.19},{"m":"1250","t":"s","g":"1250s","x":5480,"y":-10.1}
    ],
    "d": [
      {"m":"300","t":"s","g":"300s","x":283,"y":-1.33},{"m":"300","t":"s","g":"300s","x":468,"y":-1.59},{"m":"300","t":"s","g":"300s","x":691,"y":-1.99},{"m":"300","t":"s","g":"300s","x":914,"y":-2.35},{"m":"300","t":"s","g":"300s","x":1212,"y":-2.65},{"m":"300","t":"s","g":"300s","x":1509,"y":-2.79},{"m":"300","t":"s","g":"300s","x":1770,"y":-2.81},{"m":"300","t":"s","g":"300s","x":1955,"y":-2.74},{"m":"300","t":"s","g":"300s","x":2104,"y":-2.52},{"m":"300","t":"s","g":"300s","x":2216,"y":-2.17},{"m":"300","t":"s","g":"300s","x":2290,"y":-1.55},{"m":"300","t":"s","g":"300s","x":2364,"y":-1.19},{"m":"300","t":"s","g":"300s","x":2401,"y":-1.46},{"m":"300","t":"s","g":"300s","x":2439,"y":-2.57},
      {"m":"300","t":"d","g":"300d","x":283,"y":-1.99},{"m":"300","t":"d","g":"300d","x":300,"y":-1.73},
      {"m":"400","t":"s","g":"400s","x":342,"y":-1.77},{"m":"400","t":"s","g":"400s","x":468,"y":-1.99},{"m":"400","t":"s","g":"400s","x":691,"y":-2.35},{"m":"400","t":"s","g":"400s","x":989,"y":-2.74},{"m":"400","t":"s","g":"400s","x":1361,"y":-3.05},{"m":"400","t":"s","g":"400s","x":1732,"y":-3.23},{"m":"400","t":"s","g":"400s","x":2104,"y":-3.23},{"m":"400","t":"s","g":"400s","x":2327,"y":-3.1},{"m":"400","t":"s","g":"400s","x":2476,"y":-2.79},{"m":"400","t":"s","g":"400s","x":2587,"y":-2.17},{"m":"400","t":"s","g":"400s","x":2662,"y":-1.46},{"m":"400","t":"s","g":"400s","x":2736,"y":-1.02},{"m":"400","t":"s","g":"400s","x":2788,"y":-0.77},{"m":"400","t":"s","g":"400s","x":2825,"y":-1.19},{"m":"400","t":"s","g":"400s","x":2848,"y":-1.81},{"m":"400","t":"s","g":"400s","x":2862,"y":-2.7},
      {"m":"400","t":"d","g":"400d","x":342,"y":-1.77},{"m":"400","t":"d","g":"400d","x":343,"y":-2.7},
      {"m":"400","t":"d","g":"400e","x":2848,"y":-2.35},{"m":"400","t":"d","g":"400e","x":2885,"y":-3.85},
      {"m":"500","t":"s","g":"500s","x":394,"y":-2.04},{"m":"500","t":"s","g":"500s","x":617,"y":-2.26},{"m":"500","t":"s","g":"500s","x":914,"y":-2.65},{"m":"500","t":"s","g":"500s","x":1212,"y":-3.01},{"m":"500","t":"s","g":"500s","x":1584,"y":-3.32},{"m":"500","t":"s","g":"500s","x":1955,"y":-3.5},{"m":"500","t":"s","g":"500s","x":2327,"y":-3.48},{"m":"500","t":"s","g":"500s","x":2625,"y":-3.32},{"m":"500","t":"s","g":"500s","x":2773,"y":-3.05},{"m":"500","t":"s","g":"500s","x":2885,"y":-2.61},{"m":"500","t":"s","g":"500s","x":2959,"y":-2.08},{"m":"500","t":"s","g":"500s","x":3033,"y":-1.55},{"m":"500","t":"s","g":"500s","x":3108,"y":-1.02},{"m":"500","t":"s","g":"500s","x":3182,"y":-0.62},
      {"m":"500","t":"d","g":"500d","x":394,"y":-2.04},{"m":"500","t":"d","g":"500d","x":395,"y":-2.3},
      {"m":"500","t":"d","g":"500e","x":2996,"y":-1.6},{"m":"500","t":"d","g":"500e","x":3145,"y":-1.46},
      {"m":"600","t":"s","g":"600s","x":468,"y":-2.24},{"m":"600","t":"s","g":"600s","x":691,"y":-2.43},{"m":"600","t":"s","g":"600s","x":989,"y":-2.83},{"m":"600","t":"s","g":"600s","x":1361,"y":-3.23},{"m":"600","t":"s","g":"600s","x":1732,"y":-3.54},{"m":"600","t":"s","g":"600s","x":2104,"y":-3.72},{"m":"600","t":"s","g":"600s","x":2476,"y":-3.76},{"m":"600","t":"s","g":"600s","x":2773,"y":-3.67},{"m":"600","t":"s","g":"600s","x":2996,"y":-3.41},{"m":"600","t":"s","g":"600s","x":3145,"y":-3.05},{"m":"600","t":"s","g":"600s","x":3257,"y":-2.52},{"m":"600","t":"s","g":"600s","x":3368,"y":-1.99},{"m":"600","t":"s","g":"600s","x":3442,"y":-1.46},{"m":"600","t":"s","g":"600s","x":3517,"y":-0.71},{"m":"600","t":"s","g":"600s","x":3532,"y":-0.68},{"m":"600","t":"s","g":"600s","x":3561,"y":-2.35},{"m":"600","t":"s","g":"600s","x":3591,"y":-3.76},
      {"m":"600","t":"d","g":"600e","x":3368,"y":-1.37},{"m":"600","t":"d","g":"600e","x":3532,"y":-1.46},
      {"m":"750","t":"s","g":"750s","x":558,"y":-2.5},{"m":"750","t":"s","g":"750s","x":766,"y":-2.65},{"m":"750","t":"s","g":"750s","x":1063,"y":-3.01},{"m":"750","t":"s","g":"750s","x":1435,"y":-3.45},{"m":"750","t":"s","g":"750s","x":1807,"y":-3.81},{"m":"750","t":"s","g":"750s","x":2178,"y":-3.98},{"m":"750","t":"s","g":"750s","x":2550,"y":-4.04},{"m":"750","t":"s","g":"750s","x":2922,"y":-3.98},{"m":"750","t":"s","g":"750s","x":3219,"y":-3.85},{"m":"750","t":"s","g":"750s","x":3442,"y":-3.54},{"m":"750","t":"s","g":"750s","x":3591,"y":-3.1},{"m":"750","t":"s","g":"750s","x":3740,"y":-2.35},{"m":"750","t":"s","g":"750s","x":3888,"y":-1.46},{"m":"750","t":"s","g":"750s","x":4000,"y":-0.84},{"m":"750","t":"s","g":"750s","x":4059,"y":-0.58},
      {"m":"750","t":"d","g":"750e","x":3814,"y":-1.55},{"m":"750","t":"d","g":"750e","x":3963,"y":-1.64},{"m":"750","t":"d","g":"750e","x":4037,"y":-1.66},
      {"m":"1000","t":"s","g":"1000s","x":706,"y":-2.96},{"m":"1000","t":"s","g":"1000s","x":989,"y":-3.04},{"m":"1000","t":"s","g":"1000s","x":1286,"y":-3.23},{"m":"1000","t":"s","g":"1000s","x":1584,"y":-3.58},{"m":"1000","t":"s","g":"1000s","x":1955,"y":-3.98},{"m":"1000","t":"s","g":"1000s","x":2327,"y":-4.25},{"m":"1000","t":"s","g":"1000s","x":2699,"y":-4.38},{"m":"1000","t":"s","g":"1000s","x":3071,"y":-4.44},{"m":"1000","t":"s","g":"1000s","x":3442,"y":-4.44},{"m":"1000","t":"s","g":"1000s","x":3740,"y":-4.36},{"m":"1000","t":"s","g":"1000s","x":4037,"y":-4.16},{"m":"1000","t":"s","g":"1000s","x":4260,"y":-3.85},{"m":"1000","t":"s","g":"1000s","x":4372,"y":-3.41},{"m":"1000","t":"s","g":"1000s","x":4483,"y":-2.61},{"m":"1000","t":"s","g":"1000s","x":4595,"y":-1.9},{"m":"1000","t":"s","g":"1000s","x":4706,"y":-1.46},{"m":"1000","t":"s","g":"1000s","x":4855,"y":-0.71},
      {"m":"1000","t":"d","g":"1000e","x":4632,"y":-1.42},{"m":"1000","t":"d","g":"1000e","x":4855,"y":-1.73},
      {"m":"1250","t":"s","g":"1250s","x":892,"y":-3.48},{"m":"1250","t":"s","g":"1250s","x":1212,"y":-3.41},{"m":"1250","t":"s","g":"1250s","x":1509,"y":-3.48},{"m":"1250","t":"s","g":"1250s","x":1807,"y":-3.76},{"m":"1250","t":"s","g":"1250s","x":2178,"y":-4.2},{"m":"1250","t":"s","g":"1250s","x":2550,"y":-4.51},{"m":"1250","t":"s","g":"1250s","x":2922,"y":-4.69},{"m":"1250","t":"s","g":"1250s","x":3294,"y":-4.75},{"m":"1250","t":"s","g":"1250s","x":3665,"y":-4.78},{"m":"1250","t":"s","g":"1250s","x":4037,"y":-4.78},{"m":"1250","t":"s","g":"1250s","x":4335,"y":-4.69},{"m":"1250","t":"s","g":"1250s","x":4632,"y":-4.51},{"m":"1250","t":"s","g":"1250s","x":4855,"y":-4.2},{"m":"1250","t":"s","g":"1250s","x":5004,"y":-3.76},{"m":"1250","t":"s","g":"1250s","x":5115,"y":-3.05},{"m":"1250","t":"s","g":"1250s","x":5227,"y":-2.35},{"m":"1250","t":"s","g":"1250s","x":5375,"y":-1.64},{"m":"1250","t":"s","g":"1250s","x":5435,"y":-1.55},{"m":"1250","t":"s","g":"1250s","x":5500,"y":-1.5}
    ],
    "f": [
      {"m":"300","t":"s","g":"300s","x":305,"y":-5.44},{"m":"300","t":"s","g":"300s","x":468,"y":-5.75},{"m":"300","t":"s","g":"300s","x":691,"y":-6.18},{"m":"300","t":"s","g":"300s","x":914,"y":-6.54},{"m":"300","t":"s","g":"300s","x":1212,"y":-6.84},{"m":"300","t":"s","g":"300s","x":1509,"y":-6.95},{"m":"300","t":"s","g":"300s","x":1770,"y":-6.97},{"m":"300","t":"s","g":"300s","x":1955,"y":-6.91},{"m":"300","t":"s","g":"300s","x":2104,"y":-6.75},{"m":"300","t":"s","g":"300s","x":2216,"y":-6.45},{"m":"300","t":"s","g":"300s","x":2305,"y":-6.14},{"m":"300","t":"s","g":"300s","x":2364,"y":-5.9},{"m":"300","t":"s","g":"300s","x":2401,"y":-6.18},{"m":"300","t":"s","g":"300s","x":2439,"y":-6.36},
      {"m":"300","t":"d","g":"300d","x":305,"y":-6.1},{"m":"300","t":"d","g":"300d","x":320,"y":-5.8},
      {"m":"400","t":"s","g":"400s","x":342,"y":-5.96},{"m":"400","t":"s","g":"400s","x":468,"y":-6.14},{"m":"400","t":"s","g":"400s","x":691,"y":-6.49},{"m":"400","t":"s","g":"400s","x":989,"y":-6.93},{"m":"400","t":"s","g":"400s","x":1361,"y":-7.28},{"m":"400","t":"s","g":"400s","x":1732,"y":-7.47},{"m":"400","t":"s","g":"400s","x":2104,"y":-7.47},{"m":"400","t":"s","g":"400s","x":2401,"y":-7.41},{"m":"400","t":"s","g":"400s","x":2550,"y":-7.24},{"m":"400","t":"s","g":"400s","x":2662,"y":-6.84},{"m":"400","t":"s","g":"400s","x":2736,"y":-6.14},{"m":"400","t":"s","g":"400s","x":2788,"y":-5.7},{"m":"400","t":"s","g":"400s","x":2825,"y":-5.96},{"m":"400","t":"s","g":"400s","x":2848,"y":-6.4},
      {"m":"400","t":"d","g":"400d","x":342,"y":-5.96},{"m":"400","t":"d","g":"400d","x":343,"y":-6.89},
      {"m":"400","t":"d","g":"400e","x":2825,"y":-6.0},{"m":"400","t":"d","g":"400e","x":2885,"y":-7.54},
      {"m":"500","t":"s","g":"500s","x":394,"y":-6.32},{"m":"500","t":"s","g":"500s","x":617,"y":-6.54},{"m":"500","t":"s","g":"500s","x":914,"y":-6.97},{"m":"500","t":"s","g":"500s","x":1212,"y":-7.32},{"m":"500","t":"s","g":"500s","x":1584,"y":-7.63},{"m":"500","t":"s","g":"500s","x":1955,"y":-7.81},{"m":"500","t":"s","g":"500s","x":2327,"y":-7.82},{"m":"500","t":"s","g":"500s","x":2625,"y":-7.68},{"m":"500","t":"s","g":"500s","x":2773,"y":-7.46},{"m":"500","t":"s","g":"500s","x":2885,"y":-7.11},{"m":"500","t":"s","g":"500s","x":2959,"y":-6.67},{"m":"500","t":"s","g":"500s","x":3033,"y":-6.36},{"m":"500","t":"s","g":"500s","x":3108,"y":-5.96},{"m":"500","t":"s","g":"500s","x":3205,"y":-5.53},
      {"m":"500","t":"d","g":"500d","x":394,"y":-6.32},{"m":"500","t":"d","g":"500d","x":395,"y":-6.5},
      {"m":"500","t":"d","g":"500e","x":3033,"y":-6.49},{"m":"500","t":"d","g":"500e","x":3182,"y":-6.36},
      {"m":"600","t":"s","g":"600s","x":468,"y":-6.62},{"m":"600","t":"s","g":"600s","x":691,"y":-6.8},{"m":"600","t":"s","g":"600s","x":989,"y":-7.19},{"m":"600","t":"s","g":"600s","x":1361,"y":-7.59},{"m":"600","t":"s","g":"600s","x":1732,"y":-7.91},{"m":"600","t":"s","g":"600s","x":2104,"y":-8.11},{"m":"600","t":"s","g":"600s","x":2476,"y":-8.16},{"m":"600","t":"s","g":"600s","x":2773,"y":-8.09},{"m":"600","t":"s","g":"600s","x":2996,"y":-7.85},{"m":"600","t":"s","g":"600s","x":3145,"y":-7.54},{"m":"600","t":"s","g":"600s","x":3257,"y":-7.06},{"m":"600","t":"s","g":"600s","x":3368,"y":-6.58},{"m":"600","t":"s","g":"600s","x":3442,"y":-6.23},{"m":"600","t":"s","g":"600s","x":3517,"y":-5.75},{"m":"600","t":"s","g":"600s","x":3532,"y":-5.72},{"m":"600","t":"s","g":"600s","x":3561,"y":-6.58},{"m":"600","t":"s","g":"600s","x":3591,"y":-7.68},
      {"m":"600","t":"d","g":"600e","x":3405,"y":-6.5},{"m":"600","t":"d","g":"600e","x":3532,"y":-6.62},
      {"m":"750","t":"s","g":"750s","x":558,"y":-7.0},{"m":"750","t":"s","g":"750s","x":766,"y":-7.15},{"m":"750","t":"s","g":"750s","x":1063,"y":-7.5},{"m":"750","t":"s","g":"750s","x":1435,"y":-7.94},{"m":"750","t":"s","g":"750s","x":1807,"y":-8.33},{"m":"750","t":"s","g":"750s","x":2178,"y":-8.51},{"m":"750","t":"s","g":"750s","x":2550,"y":-8.58},{"m":"750","t":"s","g":"750s","x":2922,"y":-8.53},{"m":"750","t":"s","g":"750s","x":3219,"y":-8.4},{"m":"750","t":"s","g":"750s","x":3442,"y":-8.2},{"m":"750","t":"s","g":"750s","x":3591,"y":-7.81},{"m":"750","t":"s","g":"750s","x":3740,"y":-7.19},{"m":"750","t":"s","g":"750s","x":3888,"y":-6.4},{"m":"750","t":"s","g":"750s","x":4000,"y":-5.88},{"m":"750","t":"s","g":"750s","x":4059,"y":-5.6},
      {"m":"750","t":"d","g":"750e","x":3814,"y":-6.62},{"m":"750","t":"d","g":"750e","x":3963,"y":-6.71},{"m":"750","t":"d","g":"750e","x":4037,"y":-6.8},
      {"m":"1000","t":"s","g":"1000s","x":706,"y":-7.63},{"m":"1000","t":"s","g":"1000s","x":989,"y":-7.68},{"m":"1000","t":"s","g":"1000s","x":1286,"y":-7.88},{"m":"1000","t":"s","g":"1000s","x":1584,"y":-8.25},{"m":"1000","t":"s","g":"1000s","x":1955,"y":-8.64},{"m":"1000","t":"s","g":"1000s","x":2327,"y":-8.9},{"m":"1000","t":"s","g":"1000s","x":2699,"y":-9.04},{"m":"1000","t":"s","g":"1000s","x":3071,"y":-9.12},{"m":"1000","t":"s","g":"1000s","x":3442,"y":-9.14},{"m":"1000","t":"s","g":"1000s","x":3740,"y":-9.08},{"m":"1000","t":"s","g":"1000s","x":4037,"y":-8.86},{"m":"1000","t":"s","g":"1000s","x":4260,"y":-8.51},{"m":"1000","t":"s","g":"1000s","x":4372,"y":-8.16},{"m":"1000","t":"s","g":"1000s","x":4483,"y":-7.46},{"m":"1000","t":"s","g":"1000s","x":4595,"y":-7.02},{"m":"1000","t":"s","g":"1000s","x":4706,"y":-6.67},{"m":"1000","t":"s","g":"1000s","x":4855,"y":-5.88},
      {"m":"1000","t":"d","g":"1000e","x":4632,"y":-6.95},{"m":"1000","t":"d","g":"1000e","x":4855,"y":-6.89},
      {"m":"1250","t":"s","g":"1250s","x":892,"y":-8.23},{"m":"1250","t":"s","g":"1250s","x":1212,"y":-8.16},{"m":"1250","t":"s","g":"1250s","x":1509,"y":-8.23},{"m":"1250","t":"s","g":"1250s","x":1807,"y":-8.51},{"m":"1250","t":"s","g":"1250s","x":2178,"y":-8.95},{"m":"1250","t":"s","g":"1250s","x":2550,"y":-9.25},{"m":"1250","t":"s","g":"1250s","x":2922,"y":-9.43},{"m":"1250","t":"s","g":"1250s","x":3294,"y":-9.5},{"m":"1250","t":"s","g":"1250s","x":3665,"y":-9.56},{"m":"1250","t":"s","g":"1250s","x":4037,"y":-9.58},{"m":"1250","t":"s","g":"1250s","x":4335,"y":-9.5},{"m":"1250","t":"s","g":"1250s","x":4632,"y":-9.3},{"m":"1250","t":"s","g":"1250s","x":4855,"y":-8.99},{"m":"1250","t":"s","g":"1250s","x":5004,"y":-8.51},{"m":"1250","t":"s","g":"1250s","x":5115,"y":-7.89},{"m":"1250","t":"s","g":"1250s","x":5227,"y":-7.68},{"m":"1250","t":"s","g":"1250s","x":5361,"y":-7.37},{"m":"1250","t":"s","g":"1250s","x":5435,"y":-7.32},{"m":"1250","t":"s","g":"1250s","x":5500,"y":-7.25}
    ]
  },
  "concat": [
    {
      "width": 268, "height": 190,
      "title": {"text": "tanβ=45", "subtitle": "μ<0"},
      "resolve": {"axis": {"x": "independent", "y": "independent"}},
      "layer": [
        {"data": {"name": "a"}, "mark": {"type": "line", "strokeWidth": 1},
         "encoding": {
           "x": {"field": "x", "type": "quantitative", "scale": {"domain": [0, 4600], "nice": false}, "axis": {"title": null, "format": "d", "values": [0,500,1000,1500,2000,2500,3000,3500,4000,4500], "labelExpr": "datum.value % 2000 == 0 ? datum.label : ''", "labelPadding": 5}},
           "y": {"field": "y", "type": "quantitative", "scale": {"domain": [-14, -3], "nice": false, "zero": false}, "axis": {"title": "Φᵧ (cm⁻² s⁻¹)", "titleFontSize": 16, "titlePadding": 4, "minExtent": 28, "maxExtent": 28, "labelPadding": 12, "values": [-14,-13,-12,-11,-10,-9,-8,-7,-6,-5,-4,-3], "labelExpr": "datum.value % 2 == 0 ? '10' + replace(replace(replace(replace(replace(replace(replace(replace(replace(replace(replace(replace(toString(datum.value),'-','⁻'),'0','⁰'),'1','¹'),'1','¹'),'2','²'),'3','³'),'4','⁴'),'5','⁵'),'6','⁶'),'7','⁷'),'8','⁸'),'9','⁹') : ''"}},
           "color": {"field": "m", "type": "nominal", "scale": {"domain": ["300","400","500","600","750","1000","1250"], "range": ["#ffff00","#ff0000","#00ff00","#0000ff","#000000","#bc8f8f","#a020f0"]}, "legend": {"orient": "none", "legendX": 46, "legendY": 14, "title": null, "symbolType": "M-2,0H2", "symbolSize": 100, "symbolStrokeWidth": 1, "symbolFillColor": "transparent", "labelFontSize": 9, "labelOffset": 9, "rowPadding": 3, "padding": 0, "labelExpr": "'m₁/₂=' + datum.label + ' GeV'"}},
           "strokeDash": {"field": "t", "type": "nominal", "scale": {"domain": ["s","d"], "range": [[1,0],[3,2]]}, "legend": null},
           "detail": {"field": "g"}
         }},
        {"data": {"values": [{"lab": "a)"}]}, "mark": {"type": "text", "align": "left", "baseline": "alphabetic", "fontSize": 17, "font": "Liberation Sans"},
         "encoding": {"text": {"field": "lab"},
           "x": {"datum": 200, "type": "quantitative", "axis": {"orient": "top", "labels": false, "title": null, "values": [0,500,1000,1500,2000,2500,3000,3500,4000,4500]}},
           "y": {"datum": -13.6, "type": "quantitative", "axis": {"orient": "right", "labels": false, "title": null, "values": [-14,-13,-12,-11,-10,-9,-8,-7,-6,-5,-4,-3]}}}}
      ]
    },
    {
      "width": 270, "height": 190,
      "title": {"text": "tanβ=54", "subtitle": "μ>0", "dy": 4},
      "resolve": {"axis": {"x": "independent", "y": "independent"}},
      "layer": [
        {"data": {"name": "b"}, "mark": {"type": "line", "strokeWidth": 1},
         "encoding": {
           "x": {"field": "x", "type": "quantitative", "scale": {"domain": [0, 6000], "nice": false}, "axis": {"title": null, "format": "d", "values": [0,1000,2000,3000,4000,5000,6000], "labelExpr": "datum.value % 2000 == 0 ? datum.label : ''", "labelPadding": 5}},
           "y": {"field": "y", "type": "quantitative", "scale": {"domain": [-13, -8], "nice": false, "zero": false}, "axis": {"title": "m", "titleOpacity": 0, "titleFontSize": 4, "titlePadding": 0, "minExtent": 24, "maxExtent": 24, "labelPadding": 8, "tickSize": {"condition": {"test": "datum.value % 1 != 0", "value": -2}, "value": -4}, "values": [-13,-12.699,-12.523,-12.398,-12.301,-12.222,-12.155,-12.097,-12.046,-12,-11.699,-11.523,-11.398,-11.301,-11.222,-11.155,-11.097,-11.046,-11,-10.699,-10.523,-10.398,-10.301,-10.222,-10.155,-10.097,-10.046,-10,-9.699,-9.523,-9.398,-9.301,-9.222,-9.155,-9.097,-9.046,-9,-8.699,-8.523,-8.398,-8.301,-8.222,-8.155,-8.097,-8.046,-8], "labelExpr": "datum.value % 1 == 0 ? '10' + replace(replace(replace(replace(replace(replace(replace(replace(replace(replace(replace(replace(toString(datum.value),'-','⁻'),'0','⁰'),'1','¹'),'1','¹'),'2','²'),'3','³'),'4','⁴'),'5','⁵'),'6','⁶'),'7','⁷'),'8','⁸'),'9','⁹') : ''"}},
           "color": {"field": "m", "type": "nominal", "scale": {"domain": ["300","400","500","600","750","1000","1250"], "range": ["#ffff00","#ff0000","#00ff00","#0000ff","#000000","#bc8f8f","#a020f0"]}, "legend": null},
           "strokeDash": {"field": "t", "type": "nominal", "scale": {"domain": ["s","d"], "range": [[1,0],[3,2]]}, "legend": null},
           "detail": {"field": "g"}
         }},
        {"data": {"values": [{"lab": "b)"}]}, "mark": {"type": "text", "align": "left", "baseline": "alphabetic", "fontSize": 17, "font": "Liberation Sans"},
         "encoding": {"text": {"field": "lab"},
           "x": {"datum": 320, "type": "quantitative", "axis": {"orient": "top", "labels": false, "title": null, "values": [0,1000,2000,3000,4000,5000,6000]}},
           "y": {"datum": -12.8, "type": "quantitative", "axis": {"orient": "right", "labels": false, "title": null, "values": [-13,-12,-11,-10,-9,-8]}}}}
      ]
    },
    {
      "width": 268, "height": 190,
      "resolve": {"axis": {"x": "independent", "y": "independent"}},
      "layer": [
        {"data": {"name": "c"}, "mark": {"type": "line", "strokeWidth": 1},
         "encoding": {
           "x": {"field": "x", "type": "quantitative", "scale": {"domain": [0, 4600], "nice": false}, "axis": {"title": null, "format": "d", "values": [0,500,1000,1500,2000,2500,3000,3500,4000,4500], "labelExpr": "datum.value % 2000 == 0 ? datum.label : ''", "labelPadding": 5}},
           "y": {"field": "y", "type": "quantitative", "scale": {"domain": [-8, 0], "nice": false, "zero": false}, "axis": {"title": "S/B (e⁺)", "titleFontSize": 16, "titlePadding": 4, "minExtent": 28, "maxExtent": 28, "labelPadding": 12, "values": [-8,-7,-6,-5,-4,-3,-2,-1,0], "labelExpr": "datum.value % 2 == 0 ? '10' + replace(replace(replace(replace(replace(replace(replace(replace(replace(replace(replace(replace(toString(datum.value),'-','⁻'),'0','⁰'),'1','¹'),'1','¹'),'2','²'),'3','³'),'4','⁴'),'5','⁵'),'6','⁶'),'7','⁷'),'8','⁸'),'9','⁹') : ''"}},
           "color": {"field": "m", "type": "nominal", "scale": {"domain": ["300","400","500","600","750","1000","1250"], "range": ["#ffff00","#ff0000","#00ff00","#0000ff","#000000","#bc8f8f","#a020f0"]}, "legend": null},
           "strokeDash": {"field": "t", "type": "nominal", "scale": {"domain": ["s","d"], "range": [[1,0],[3,2]]}, "legend": null},
           "detail": {"field": "g"}
         }},
        {"data": {"values": [{"lab": "c)"}]}, "mark": {"type": "text", "align": "left", "baseline": "alphabetic", "fontSize": 17, "font": "Liberation Sans"},
         "encoding": {"text": {"field": "lab"},
           "x": {"datum": 200, "type": "quantitative", "axis": {"orient": "top", "labels": false, "title": null, "values": [0,500,1000,1500,2000,2500,3000,3500,4000,4500]}},
           "y": {"datum": -7.9, "type": "quantitative", "axis": {"orient": "right", "labels": false, "title": null, "values": [-8,-7,-6,-5,-4,-3,-2,-1,0]}}}}
      ]
    },
    {
      "width": 270, "height": 190,
      "resolve": {"axis": {"x": "independent", "y": "independent"}},
      "layer": [
        {"data": {"name": "d"}, "mark": {"type": "line", "strokeWidth": 1},
         "encoding": {
           "x": {"field": "x", "type": "quantitative", "scale": {"domain": [0, 6000], "nice": false}, "axis": {"title": null, "format": "d", "values": [0,1000,2000,3000,4000,5000,6000], "labelExpr": "datum.value % 2000 == 0 ? datum.label : ''", "labelPadding": 5}},
           "y": {"field": "y", "type": "quantitative", "scale": {"domain": [-5, 0], "nice": false, "zero": false}, "axis": {"title": "m", "titleOpacity": 0, "titleFontSize": 4, "titlePadding": 0, "minExtent": 24, "maxExtent": 24, "labelPadding": 8, "tickSize": {"condition": {"test": "datum.value % 1 != 0", "value": -2}, "value": -4}, "values": [-5,-4.699,-4.523,-4.398,-4.301,-4.222,-4.155,-4.097,-4.046,-4,-3.699,-3.523,-3.398,-3.301,-3.222,-3.155,-3.097,-3.046,-3,-2.699,-2.523,-2.398,-2.301,-2.222,-2.155,-2.097,-2.046,-2,-1.699,-1.523,-1.398,-1.301,-1.222,-1.155,-1.097,-1.046,-1,-0.699,-0.523,-0.398,-0.301,-0.222,-0.155,-0.097,-0.046,0], "labelExpr": "datum.value % 1 == 0 ? '10' + replace(replace(replace(replace(replace(replace(replace(replace(replace(replace(replace(replace(toString(datum.value),'-','⁻'),'0','⁰'),'1','¹'),'1','¹'),'2','²'),'3','³'),'4','⁴'),'5','⁵'),'6','⁶'),'7','⁷'),'8','⁸'),'9','⁹') : ''"}},
           "color": {"field": "m", "type": "nominal", "scale": {"domain": ["300","400","500","600","750","1000","1250"], "range": ["#ffff00","#ff0000","#00ff00","#0000ff","#000000","#bc8f8f","#a020f0"]}, "legend": null},
           "strokeDash": {"field": "t", "type": "nominal", "scale": {"domain": ["s","d"], "range": [[1,0],[3,2]]}, "legend": null},
           "detail": {"field": "g"}
         }},
        {"data": {"values": [{"lab": "d)"}]}, "mark": {"type": "text", "align": "left", "baseline": "alphabetic", "fontSize": 17, "font": "Liberation Sans"},
         "encoding": {"text": {"field": "lab"},
           "x": {"datum": 320, "type": "quantitative", "axis": {"orient": "top", "labels": false, "title": null, "values": [0,1000,2000,3000,4000,5000,6000]}},
           "y": {"datum": -4.94, "type": "quantitative", "axis": {"orient": "right", "labels": false, "title": null, "values": [-5,-4,-3,-2,-1,0]}}}}
      ]
    },
    {
      "width": 268, "height": 190,
      "resolve": {"axis": {"x": "independent", "y": "independent"}},
      "layer": [
        {"data": {"name": "e"}, "mark": {"type": "line", "strokeWidth": 1},
         "encoding": {
           "x": {"field": "x", "type": "quantitative", "scale": {"domain": [0, 4600], "nice": false}, "axis": {"title": "m₀(GeV)", "titleFontSize": 18, "titlePadding": 6, "format": "d", "values": [0,500,1000,1500,2000,2500,3000,3500,4000,4500], "labelExpr": "datum.value % 2000 == 0 ? datum.label : ''", "labelPadding": 5}},
           "y": {"field": "y", "type": "quantitative", "scale": {"domain": [-12, -4], "nice": false, "zero": false}, "axis": {"title": "dΦᵖ⁻/dEdΩ (GeV⁻¹ cm⁻² s⁻¹ sr⁻¹)", "titleFontSize": 13, "titlePadding": 7, "minExtent": 28, "maxExtent": 28, "labelPadding": 12, "values": [-12,-11,-10,-9,-8,-7,-6,-5,-4], "labelExpr": "datum.value % 2 == 0 ? '10' + replace(replace(replace(replace(replace(replace(replace(replace(replace(replace(replace(replace(toString(datum.value),'-','⁻'),'0','⁰'),'1','¹'),'1','¹'),'2','²'),'3','³'),'4','⁴'),'5','⁵'),'6','⁶'),'7','⁷'),'8','⁸'),'9','⁹') : ''"}},
           "color": {"field": "m", "type": "nominal", "scale": {"domain": ["300","400","500","600","750","1000","1250"], "range": ["#ffff00","#ff0000","#00ff00","#0000ff","#000000","#bc8f8f","#a020f0"]}, "legend": null},
           "strokeDash": {"field": "t", "type": "nominal", "scale": {"domain": ["s","d"], "range": [[1,0],[3,2]]}, "legend": null},
           "detail": {"field": "g"}
         }},
        {"data": {"values": [{"lab": "e)"}]}, "mark": {"type": "text", "align": "left", "baseline": "alphabetic", "fontSize": 17, "font": "Liberation Sans"},
         "encoding": {"text": {"field": "lab"},
           "x": {"datum": 200, "type": "quantitative", "axis": {"orient": "top", "labels": false, "title": null, "values": [0,500,1000,1500,2000,2500,3000,3500,4000,4500]}},
           "y": {"datum": -11.69, "type": "quantitative", "axis": {"orient": "right", "labels": false, "title": null, "values": [-12,-11,-10,-9,-8,-7,-6,-5,-4]}}}}
      ]
    },
    {
      "width": 270, "height": 190,
      "resolve": {"axis": {"x": "independent", "y": "independent"}},
      "layer": [
        {"data": {"name": "f"}, "mark": {"type": "line", "strokeWidth": 1},
         "encoding": {
           "x": {"field": "x", "type": "quantitative", "scale": {"domain": [0, 6000], "nice": false}, "axis": {"title": "m₀(GeV)", "titleFontSize": 18, "titlePadding": 6, "format": "d", "values": [0,1000,2000,3000,4000,5000,6000], "labelExpr": "datum.value % 2000 == 0 ? datum.label : ''", "labelPadding": 5}},
           "y": {"field": "y", "type": "quantitative", "scale": {"domain": [-10, -5], "nice": false, "zero": false}, "axis": {"title": "m", "titleOpacity": 0, "titleFontSize": 4, "titlePadding": 0, "minExtent": 24, "maxExtent": 24, "labelPadding": 8, "tickSize": {"condition": {"test": "datum.value % 1 != 0", "value": -2}, "value": -4}, "values": [-10,-9.699,-9.523,-9.398,-9.301,-9.222,-9.155,-9.097,-9.046,-9,-8.699,-8.523,-8.398,-8.301,-8.222,-8.155,-8.097,-8.046,-8,-7.699,-7.523,-7.398,-7.301,-7.222,-7.155,-7.097,-7.046,-7,-6.699,-6.523,-6.398,-6.301,-6.222,-6.155,-6.097,-6.046,-6,-5.699,-5.523,-5.398,-5.301,-5.222,-5.155,-5.097,-5.046,-5], "labelExpr": "datum.value % 1 == 0 ? '10' + replace(replace(replace(replace(replace(replace(replace(replace(replace(replace(replace(replace(toString(datum.value),'-','⁻'),'0','⁰'),'1','¹'),'1','¹'),'2','²'),'3','³'),'4','⁴'),'5','⁵'),'6','⁶'),'7','⁷'),'8','⁸'),'9','⁹') : ''"}},
           "color": {"field": "m", "type": "nominal", "scale": {"domain": ["300","400","500","600","750","1000","1250"], "range": ["#ffff00","#ff0000","#00ff00","#0000ff","#000000","#bc8f8f","#a020f0"]}, "legend": null},
           "strokeDash": {"field": "t", "type": "nominal", "scale": {"domain": ["s","d"], "range": [[1,0],[3,2]]}, "legend": null},
           "detail": {"field": "g"}
         }},
        {"data": {"values": [{"lab": "f)"}]}, "mark": {"type": "text", "align": "left", "baseline": "alphabetic", "fontSize": 17, "font": "Liberation Sans"},
         "encoding": {"text": {"field": "lab"},
           "x": {"datum": 320, "type": "quantitative", "axis": {"orient": "top", "labels": false, "title": null, "values": [0,1000,2000,3000,4000,5000,6000]}},
           "y": {"datum": -9.83, "type": "quantitative", "axis": {"orient": "right", "labels": false, "title": null, "values": [-10,-9,-8,-7,-6,-5]}}}}
      ]
    }
  ]
}
